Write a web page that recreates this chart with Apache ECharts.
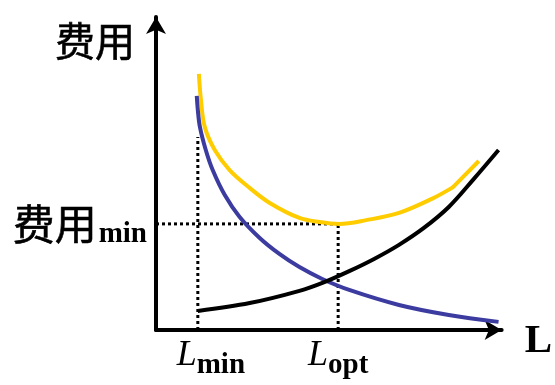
<!DOCTYPE html>
<html>
<head>
<meta charset="utf-8">
<script src="https://cdn.jsdelivr.net/npm/echarts@6/dist/echarts.min.js"></script>
<style>
html,body{margin:0;padding:0;background:#fff;}
#chart{width:555px;height:385px;}
</style>
</head>
<body>
<div id="chart"></div>
<script>
// Values (arbitrary units: L on x, 费用 on y, both 0..100)
const totalCostX = [12.4, 13.0, 14.1, 17.0, 21.3, 27.1, 32.9, 41.5, 47.3, 53.0, 60.8, 70.3, 79.8, 85.6, 86.5, 93.4];
const totalCostY = [81.8, 73.5, 64.9, 57.5, 51.1, 45.4, 40.6, 35.8, 34.5, 33.9, 35.1, 37.4, 41.9, 45.4, 46.3, 54.0];
const fallingX = [11.8, 12.1, 12.7, 14.4, 16.4, 19.9, 24.2, 30.0, 35.7, 41.5, 48.1, 55.9, 70.3, 84.7, 99.1];
const fallingY = [74.8, 70.3, 64.9, 57.5, 51.1, 43.1, 36.1, 29.4, 24.3, 20.1, 16.3, 12.8, 8.0, 4.8, 2.6];
const risingX = [12.1, 27.1, 41.5, 48.7, 55.9, 63.1, 70.3, 77.5, 84.7, 91.9, 99.1];
const risingY = [6.1, 8.6, 12.5, 15.3, 18.8, 22.7, 27.2, 32.6, 39.3, 48.2, 57.5];
const L_min = 12.1;
const L_opt = 52.7;
const costMin = 33.9;
const LminGuideTop = 61.7;
const xTickLabels = ['{Lm|L}{s|min}', '{L|L}{s|opt}'];
const yTickLabel = '{c|费用}{s|min}';
const yAxisName = '费用';
const xAxisName = 'L';

const zip = (xs, ys) => xs.map((x, i) => [x, ys[i]]);

const chart = echarts.init(document.getElementById('chart'), null, {renderer: 'canvas'});
const dotted = {color: '#000', width: 3, type: [3, 3]};
const subStyle = {fontFamily: 'Liberation Serif', fontWeight: 'bold', fontSize: 29, color: '#000', verticalAlign: 'bottom', padding: [0, 0, -6, 0]};
const bigL = {fontFamily: 'Liberation Serif', fontStyle: 'italic', fontSize: 36, color: '#000', verticalAlign: 'bottom'};
const cjk = {fontFamily: 'Noto Sans CJK SC', fontWeight: 'normal', color: '#000', textBorderColor: '#000', textBorderWidth: 0.6};
chart.setOption({
  animation: false,
  backgroundColor: '#fff',
  grid: {left: 156, right: 52, top: 17, bottom: 55},
  xAxis: {
    type: 'value', min: 0, max: 100,
    name: xAxisName, nameLocation: 'end', nameGap: 23,
    nameTextStyle: {fontFamily: 'Liberation Serif', fontWeight: 'bold', fontSize: 41, color: '#000', align: 'left', verticalAlign: 'top', lineHeight: 22},
    axisLine: {show: true, lineStyle: {color: '#000', width: 4}, symbol: ['none', 'arrow'], symbolSize: [15, 17]},
    axisTick: {show: false},
    splitLine: {show: false},
    axisLabel: {
      show: true, customValues: [L_min, L_opt], margin: 8,
      formatter: (v) => (v === L_min ? xTickLabels[0] : xTickLabels[1]),
      rich: {
        L: bigL,
        Lm: Object.assign({}, bigL, {padding: [0, 0, 0, 26]}),
        s: subStyle
      }
    }
  },
  yAxis: {
    type: 'value', min: 0, max: 100,
    name: yAxisName, nameLocation: 'end', nameGap: -4,
    nameTextStyle: Object.assign({}, cjk, {fontSize: 40, align: 'right', verticalAlign: 'top', padding: [0, 21, 0, 0]}),
    axisLine: {show: true, lineStyle: {color: '#000', width: 4}, symbol: ['none', 'arrow'], symbolSize: [15, 17]},
    axisTick: {show: false},
    splitLine: {show: false},
    axisLabel: {
      show: true, customValues: [costMin], margin: 9,
      formatter: () => yTickLabel,
      rich: {
        c: Object.assign({}, cjk, {fontSize: 42, verticalAlign: 'bottom'}),
        s: {fontFamily: 'Liberation Serif', fontWeight: 'bold', fontSize: 29, color: '#000', verticalAlign: 'bottom', padding: [0, 0, -4, 2]}
      }
    }
  },
  series: [
    {type: 'line', data: [[L_min, 0], [L_min, LminGuideTop]], symbol: 'none', lineStyle: dotted, silent: true},
    {type: 'line', data: [[0, costMin], [L_opt, costMin]], symbol: 'none', lineStyle: dotted, silent: true},
    {type: 'line', data: [[L_opt, 0], [L_opt, costMin]], symbol: 'none', lineStyle: dotted, silent: true},
    {type: 'line', data: zip(totalCostX, totalCostY), symbol: 'none', smooth: 0.35, lineStyle: {color: '#FFCC00', width: 4}},
    {type: 'line', data: zip(fallingX, fallingY), symbol: 'none', smooth: 0.35, lineStyle: {color: '#3B3BA0', width: 4}},
    {type: 'line', data: zip(risingX, risingY), symbol: 'none', smooth: 0.35, lineStyle: {color: '#000', width: 4}}
  ]
});
</script>
</body>
</html>
